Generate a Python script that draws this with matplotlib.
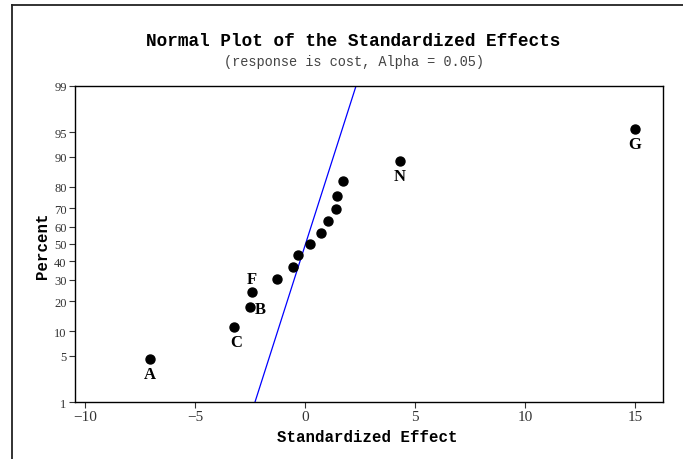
import matplotlib
matplotlib.use("Agg")
import matplotlib.pyplot as plt
from matplotlib.lines import Line2D
from statistics import NormalDist

# standardized effects, sorted, with their plotted percents
effects = [-7.05, -3.23, -2.5, -2.41, -1.27, -0.55, -0.32, 0.23, 0.73,
           1.05, 1.41, 1.45, 1.73, 4.32, 15.0]
percents = [4.5, 11.0, 17.5, 24.0, 30.5, 37.0, 43.5, 50.0, 56.5,
            63.0, 69.5, 76.0, 82.5, 89.0, 95.5]
names = ["A", "C", "B", "F", "", "", "", "", "", "", "", "", "", "N", "G"]

# reference line (x at 1% and 99%)
line_x = [-2.27, 2.32]
line_pct = [1, 99]

yticks = [1, 5, 10, 20, 30, 40, 50, 60, 70, 80, 90, 95, 99]
xticks = [-10, -5, 0, 5, 10, 15]

nd = NormalDist()
def z(p):
    return nd.inv_cdf(p / 100.0)

# label offsets in px (dx, dy), dy positive = up
offs = {"A": (0, -15), "C": (2, -15), "B": (10, -2), "F": (0, 13),
        "N": (0, -15), "G": (0, -15)}

fig = plt.figure(figsize=(6.83, 4.60), dpi=100)
ax = fig.add_axes([75/683, 1 - 403/460, 588/683, 316/460])

ax.plot(line_x, [z(p) for p in line_pct], color="blue", lw=0.9)
ax.scatter(effects, [z(p) for p in percents], s=42, color="black", zorder=3)

for x, p, n in zip(effects, percents, names):
    if n:
        dx, dy = offs[n]
        ax.annotate(n, (x, z(p)), xytext=(dx * 0.72, dy * 0.72),
                    textcoords="offset points", ha="center", va="center",
                    fontsize=12, fontweight="bold", family="Liberation Serif")

ax.set_xlim(-10.45, 16.27)
ax.set_ylim(z(1), z(99))
ax.set_xticks(xticks)
ax.set_xticklabels(["\u221210", "\u22125", "0", "5", "10", "15"],
                   family="Liberation Serif", fontsize=11)
ax.set_yticks([z(p) for p in yticks])
ax.set_yticklabels([str(p) for p in yticks], family="Liberation Serif",
                   fontsize=9)
ax.tick_params(direction="out", length=4, width=0.8, pad=2)
ax.tick_params(axis="y", colors="#333333", labelcolor="#333333")
ax.tick_params(axis="x", colors="#333333", labelcolor="#333333")
for s in ax.spines.values():
    s.set_linewidth(1.0)

fig.text(0.5176, 1 - 42/460, "Normal Plot of the Standardized Effects",
         ha="center", va="center", family="Liberation Mono",
         fontweight="bold", fontsize=12.8)
fig.text(0.5176, 1 - 62/460, "(response is cost, Alpha = 0.05)",
         ha="center", va="center", family="Liberation Mono", fontsize=9.8,
         color="#444444")
fig.text(367/683, 1 - 438/460, "Standardized Effect", ha="center",
         va="center", family="Liberation Mono", fontweight="bold",
         fontsize=11.3)
fig.text(42/683, 1 - 246/460, "Percent", ha="center", va="center",
         rotation=90, family="Liberation Mono", fontweight="bold",
         fontsize=11.3)

# outer frame (left and top edges)
fig.add_artist(Line2D([12/683, 12/683], [0, 1 - 6/460], color="#222222",
                      lw=1.3, transform=fig.transFigure))
fig.add_artist(Line2D([12/683, 1], [1 - 6/460, 1 - 6/460], color="#222222",
                      lw=1.3, transform=fig.transFigure))

fig.savefig("out.png", dpi=100)
